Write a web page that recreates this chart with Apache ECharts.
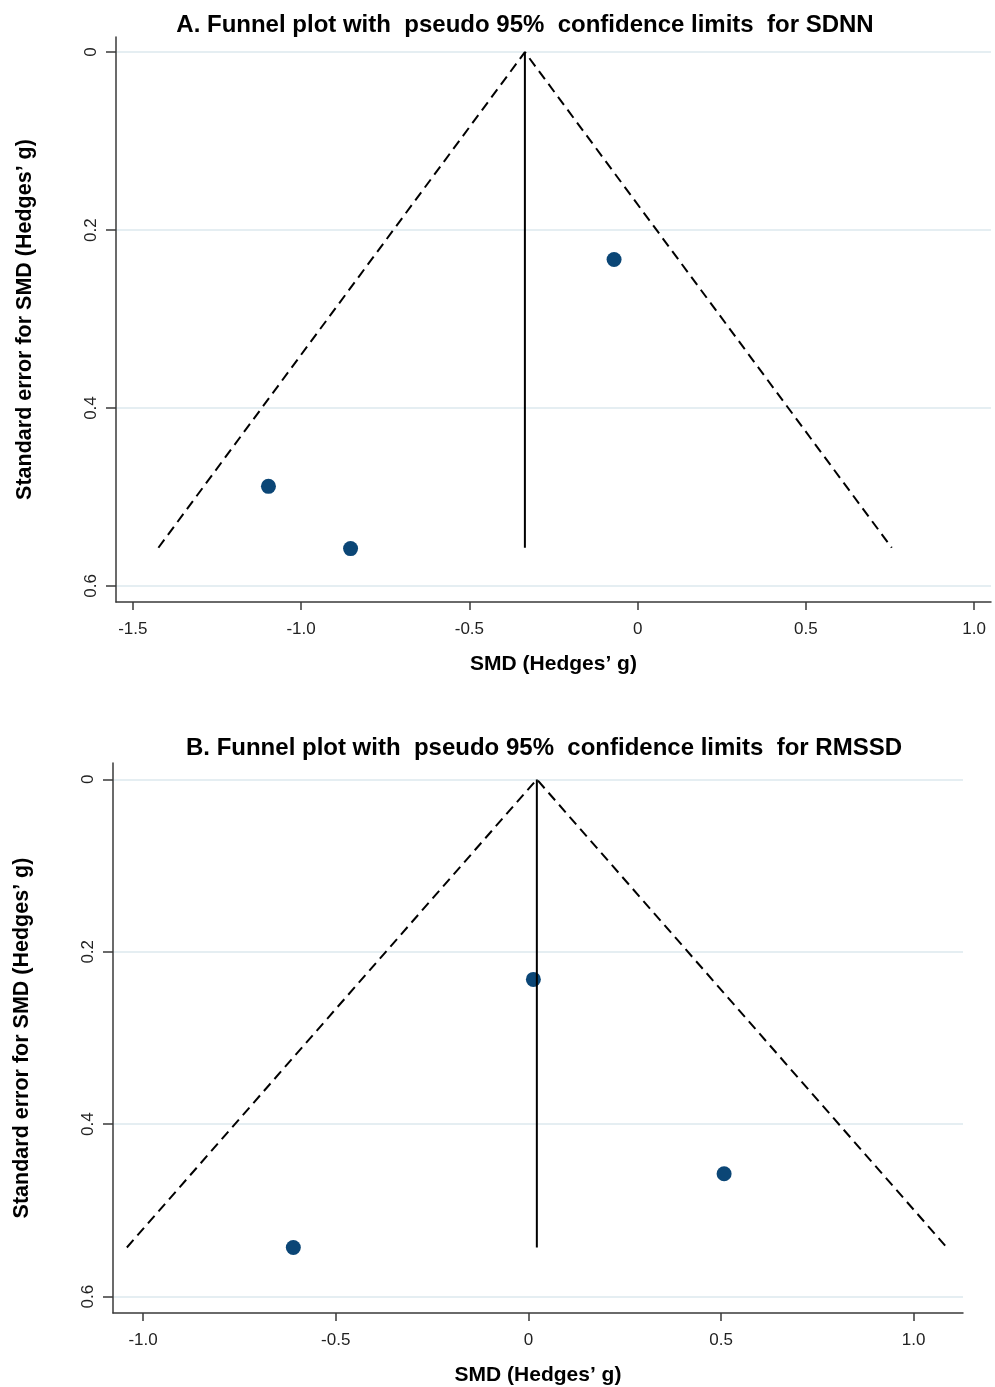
<!DOCTYPE html>
<html>
<head>
<meta charset="utf-8">
<script src="https://cdn.jsdelivr.net/npm/echarts@6/dist/echarts.min.js"></script>
<style>
html,body{margin:0;padding:0;background:#fff;}
#chart{width:995px;height:1387px;}
</style>
</head>
<body>
<div id="chart"></div>
<script>
// ---- Panel A: SDNN ----
const titleA = 'A. Funnel plot with  pseudo 95%  confidence limits  for SDNN';
const sdnnSMD = [-0.070, -1.097, -0.853];
const sdnnSE  = [0.233, 0.488, 0.558];
const sdnnFunnelX = [-1.424, -0.335, 0.755];
const sdnnFunnelY = [0.557, 0, 0.557];
const sdnnXTicks = [-1.5, -1.0, -0.5, 0, 0.5, 1.0];
const sdnnXTickLabels = ['-1.5', '-1.0', '-0.5', '0', '0.5', '1.0'];

// ---- Panel B: RMSSD ----
const titleB = 'B. Funnel plot with  pseudo 95%  confidence limits  for RMSSD';
const rmssdSMD = [0.013, 0.508, -0.610];
const rmssdSE  = [0.232, 0.4575, 0.543];
const rmssdFunnelX = [-1.042, 0.022, 1.086];
const rmssdFunnelY = [0.543, 0, 0.543];
const rmssdXTicks = [-1.0, -0.5, 0, 0.5, 1.0];
const rmssdXTickLabels = ['-1.0', '-0.5', '0', '0.5', '1.0'];

const yTicks = [0, 0.2, 0.4, 0.6];
const yTickLabels = ['0', '0.2', '0.4', '0.6'];

const xName = 'SMD (Hedges’ g)';
const yName = 'Standard error for SMD (Hedges’ g)';

const FONT = '"Liberation Sans", Arial, sans-serif';
const dotColor = '#0b4676';
const axisColor = '#3a3a3a';
const gridColor = '#dde9ee';

function labelFor(ticks, labels) {
  return function (v) {
    for (let i = 0; i < ticks.length; i++) {
      if (Math.abs(ticks[i] - v) < 1e-6) return labels[i];
    }
    return '';
  };
}

function xAxisCfg(idx, min, max, ticks, labels) {
  return {
    type: 'value', gridIndex: idx, min: min, max: max,
    name: xName, nameLocation: 'middle', nameGap: 52,
    nameTextStyle: {fontFamily: FONT, fontWeight: 'bold', fontSize: 21, color: '#000'},
    axisLine: {show: true, onZero: false, lineStyle: {color: axisColor, width: 1.5}},
    axisTick: {show: true, length: 8, customValues: ticks, lineStyle: {color: axisColor, width: 1.5}},
    axisLabel: {show: true, customValues: ticks, formatter: labelFor(ticks, labels),
      fontFamily: FONT, fontSize: 17, color: '#222', margin: 19},
    splitLine: {show: false}
  };
}

function yAxisCfg(idx, min, max) {
  return {
    type: 'value', gridIndex: idx, min: min, max: max, inverse: true,
    name: yName, nameLocation: 'middle', nameGap: 80,
    nameTextStyle: {fontFamily: FONT, fontWeight: 'bold', fontSize: 21.5, color: '#000'},
    axisLine: {show: true, onZero: false, lineStyle: {color: axisColor, width: 1.5}},
    axisTick: {show: true, length: 10, customValues: yTicks, lineStyle: {color: axisColor, width: 1.5}},
    axisLabel: {show: true, rotate: 90, customValues: yTicks, formatter: labelFor(yTicks, yTickLabels),
      fontFamily: FONT, fontSize: 17, color: '#222', margin: 16},
    splitLine: {show: true, lineStyle: {color: gridColor, width: 1.5}}
  };
}

function pairs(xs, ys) { return xs.map((x, i) => [x, ys[i]]); }

function panelSeries(idx, smd, se, fx, fy) {
  return [
    {type: 'scatter', xAxisIndex: idx, yAxisIndex: idx, data: pairs(smd, se),
      symbol: 'circle', symbolSize: 15, itemStyle: {color: dotColor, opacity: 1}, z: 2, silent: true},
    {type: 'line', xAxisIndex: idx, yAxisIndex: idx, data: pairs(fx, fy),
      symbol: 'none', lineStyle: {color: '#000', width: 2, type: [10, 6]}, z: 3, silent: true},
    {type: 'line', xAxisIndex: idx, yAxisIndex: idx,
      data: [[fx[1], fy[1]], [fx[1], fy[0]]],
      symbol: 'none', lineStyle: {color: '#000', width: 2, type: 'solid'}, z: 4, silent: true}
  ];
}

const chart = echarts.init(document.getElementById('chart'), null, {renderer: 'canvas'});
chart.setOption({
  backgroundColor: '#fff',
  animation: false,
  title: [
    {text: titleA, left: 520, top: 8, textAlign: 'center',
      textStyle: {fontFamily: FONT, fontWeight: 'bold', fontSize: 24, color: '#000'}},
    {text: titleB, left: 539, top: 731, textAlign: 'center',
      textStyle: {fontFamily: FONT, fontWeight: 'bold', fontSize: 24, color: '#000'}}
  ],
  grid: [
    {left: 116, top: 37, width: 875, height: 565},
    {left: 113, top: 763, width: 850, height: 551}
  ],
  xAxis: [
    xAxisCfg(0, -1.55, 1.05, sdnnXTicks, sdnnXTickLabels),
    xAxisCfg(1, -1.078, 1.128, rmssdXTicks, rmssdXTickLabels)
  ],
  yAxis: [
    yAxisCfg(0, -0.017, 0.618),
    yAxisCfg(1, -0.019, 0.619)
  ],
  series: [].concat(
    panelSeries(0, sdnnSMD, sdnnSE, sdnnFunnelX, sdnnFunnelY),
    panelSeries(1, rmssdSMD, rmssdSE, rmssdFunnelX, rmssdFunnelY)
  )
});
</script>
</body>
</html>
